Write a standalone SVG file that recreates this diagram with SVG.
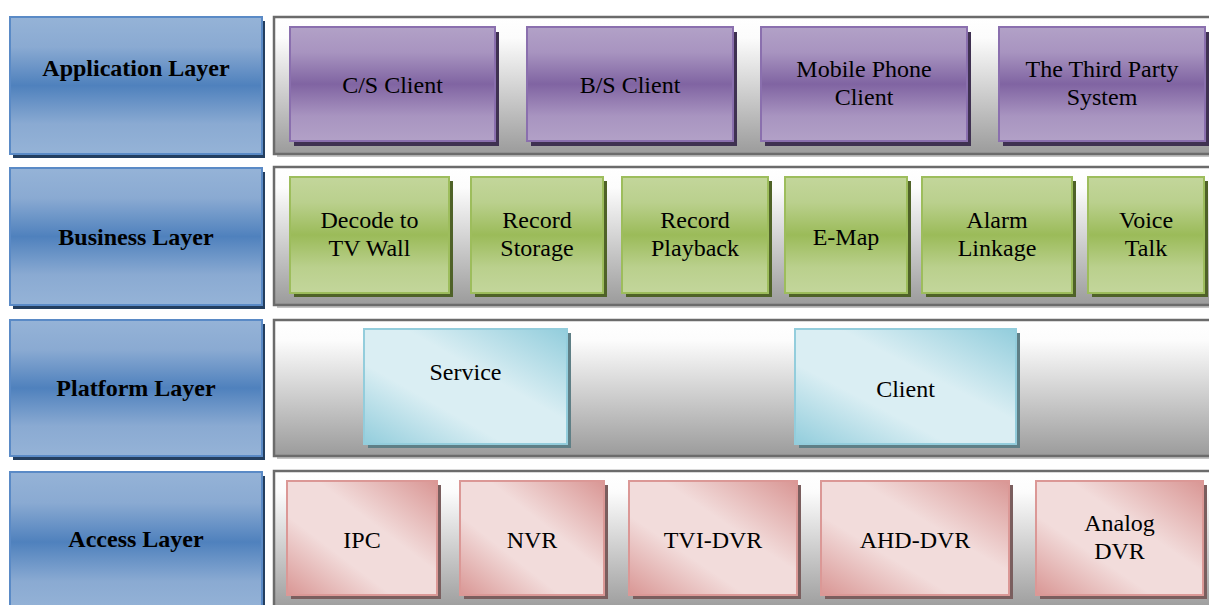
<svg xmlns="http://www.w3.org/2000/svg" width="1209" height="605" viewBox="0 0 1209 605">
<defs>
<linearGradient id="gPanel" x1="0" y1="0" x2="0" y2="1">
<stop offset="0" stop-color="#ffffff"/><stop offset="0.15" stop-color="#fcfcfc"/><stop offset="1" stop-color="#9b9b9b"/>
</linearGradient>
<linearGradient id="gBlue" x1="0" y1="0" x2="0" y2="1">
<stop offset="0" stop-color="#95b3d7"/><stop offset="0.22" stop-color="#8aaad2"/><stop offset="0.5" stop-color="#4f81bd"/><stop offset="0.78" stop-color="#8aaad2"/><stop offset="1" stop-color="#95b3d7"/>
</linearGradient>
<linearGradient id="gPurple" x1="0" y1="0" x2="0" y2="1">
<stop offset="0" stop-color="#b2a1c7"/><stop offset="0.22" stop-color="#a894c0"/><stop offset="0.5" stop-color="#8064a2"/><stop offset="0.78" stop-color="#a894c0"/><stop offset="1" stop-color="#b2a1c7"/>
</linearGradient>
<linearGradient id="gGreen" x1="0" y1="0" x2="0" y2="1">
<stop offset="0" stop-color="#c3d69b"/><stop offset="0.22" stop-color="#bad08d"/><stop offset="0.5" stop-color="#9bbb59"/><stop offset="0.78" stop-color="#bad08d"/><stop offset="1" stop-color="#c3d69b"/>
</linearGradient>
<linearGradient id="gCyan" x1="0" y1="1" x2="1" y2="0">
<stop offset="0" stop-color="#92cddc"/><stop offset="0.35" stop-color="#daeef3"/><stop offset="0.6" stop-color="#daeef3"/><stop offset="1" stop-color="#92cddc"/>
</linearGradient>
<linearGradient id="gPink" x1="0" y1="1" x2="1" y2="0">
<stop offset="0" stop-color="#d99694"/><stop offset="0.35" stop-color="#f2dcdb"/><stop offset="0.6" stop-color="#f2dcdb"/><stop offset="1" stop-color="#d99694"/>
</linearGradient>
</defs>
<style>
.panel{fill:url(#gPanel);stroke:#6b6b6b;stroke-width:2.5}
.pshadow{fill:#c4c4c4}
.layer{fill:url(#gBlue);stroke:#5a8ac6;stroke-width:2}
.lshadow{fill:#243f60}
.app{fill:url(#gPurple);stroke:#8a6fae;stroke-width:2}
.ashadow{fill:#3f3151}
.bus{fill:url(#gGreen);stroke:#9dbd5c;stroke-width:2}
.bshadow{fill:#4f6228}
.plat{fill:url(#gCyan);stroke:#93cddc;stroke-width:2}
.plshadow{fill:#5f7f86}
.acc{fill:url(#gPink);stroke:#db9896;stroke-width:2}
.acshadow{fill:#7a5e5e}
text{font-family:"Liberation Serif","Times New Roman",serif;font-size:24px;fill:#000;text-anchor:middle}
.lt{font-weight:bold}
</style>
<rect width="1209" height="605" fill="#ffffff"/>

<g id="panels">
<rect class="pshadow" x="277" y="20" width="960" height="137"/>
<rect class="panel" x="274" y="17" width="960" height="137"/>
<rect class="pshadow" x="277" y="170" width="960" height="138"/>
<rect class="panel" x="274" y="167" width="960" height="138"/>
<rect class="pshadow" x="277" y="323" width="960" height="136"/>
<rect class="panel" x="274" y="320" width="960" height="136"/>
<rect class="pshadow" x="277" y="474" width="960" height="140"/>
<rect class="panel" x="274" y="471" width="960" height="140"/>
</g>

<g id="layer-application">
<rect class="lshadow" x="13" y="21" width="252" height="137"/>
<rect class="layer" x="10" y="17" width="252" height="137"/>
<text class="lt" x="136" y="76">Application Layer</text>
</g>
<g id="layer-business">
<rect class="lshadow" x="13" y="172" width="252" height="137"/>
<rect class="layer" x="10" y="168" width="252" height="137"/>
<text class="lt" x="136" y="245">Business Layer</text>
</g>
<g id="layer-platform">
<rect class="lshadow" x="13" y="324" width="252" height="136"/>
<rect class="layer" x="10" y="320" width="252" height="136"/>
<text class="lt" x="136" y="396">Platform Layer</text>
</g>
<g id="layer-access">
<rect class="lshadow" x="13" y="476" width="252" height="140"/>
<rect class="layer" x="10" y="472" width="252" height="140"/>
<text class="lt" x="136" y="547">Access Layer</text>
</g>

<g id="cs-client">
<rect class="ashadow" x="294" y="32" width="205" height="114"/>
<rect class="app" x="290" y="27" width="205" height="114"/>
<text x="392.5" y="93">C/S Client</text>
</g>
<g id="bs-client">
<rect class="ashadow" x="531" y="32" width="206" height="114"/>
<rect class="app" x="527" y="27" width="206" height="114"/>
<text x="630" y="93">B/S Client</text>
</g>
<g id="mobile-client">
<rect class="ashadow" x="765" y="32" width="206" height="114"/>
<rect class="app" x="761" y="27" width="206" height="114"/>
<text x="864" y="77">Mobile Phone</text>
<text x="864" y="105">Client</text>
</g>
<g id="third-party">
<rect class="ashadow" x="1003" y="32" width="206" height="114"/>
<rect class="app" x="999" y="27" width="206" height="114"/>
<text x="1102" y="77">The Third Party</text>
<text x="1102" y="105">System</text>
</g>

<g id="decode-tv-wall">
<rect class="bshadow" x="294" y="181" width="159" height="116"/>
<rect class="bus" x="290" y="177" width="159" height="116"/>
<text x="369.5" y="228">Decode to</text>
<text x="369.5" y="256">TV Wall</text>
</g>
<g id="record-storage">
<rect class="bshadow" x="475" y="181" width="132" height="116"/>
<rect class="bus" x="471" y="177" width="132" height="116"/>
<text x="537" y="228">Record</text>
<text x="537" y="256">Storage</text>
</g>
<g id="record-playback">
<rect class="bshadow" x="626" y="181" width="146" height="116"/>
<rect class="bus" x="622" y="177" width="146" height="116"/>
<text x="695" y="228">Record</text>
<text x="695" y="256">Playback</text>
</g>
<g id="e-map">
<rect class="bshadow" x="789" y="181" width="122" height="116"/>
<rect class="bus" x="785" y="177" width="122" height="116"/>
<text x="846" y="245">E-Map</text>
</g>
<g id="alarm-linkage">
<rect class="bshadow" x="926" y="181" width="150" height="116"/>
<rect class="bus" x="922" y="177" width="150" height="116"/>
<text x="997" y="228">Alarm</text>
<text x="997" y="256">Linkage</text>
</g>
<g id="voice-talk">
<rect class="bshadow" x="1092" y="181" width="116" height="116"/>
<rect class="bus" x="1088" y="177" width="116" height="116"/>
<text x="1146" y="228">Voice</text>
<text x="1146" y="256">Talk</text>
</g>

<g id="service">
<rect class="plshadow" x="368" y="333" width="203" height="115"/>
<rect class="plat" x="364" y="329" width="203" height="115"/>
<text x="465.5" y="380">Service</text>
</g>
<g id="client">
<rect class="plshadow" x="799" y="333" width="221" height="115"/>
<rect class="plat" x="795" y="329" width="221" height="115"/>
<text x="905.5" y="397">Client</text>
</g>

<g id="ipc">
<rect class="acshadow" x="291" y="485" width="150" height="114"/>
<rect class="acc" x="287" y="481" width="150" height="114"/>
<text x="362" y="548">IPC</text>
</g>
<g id="nvr">
<rect class="acshadow" x="464" y="485" width="144" height="114"/>
<rect class="acc" x="460" y="481" width="144" height="114"/>
<text x="532" y="548">NVR</text>
</g>
<g id="tvi-dvr">
<rect class="acshadow" x="633" y="485" width="168" height="114"/>
<rect class="acc" x="629" y="481" width="168" height="114"/>
<text x="713" y="548">TVI-DVR</text>
</g>
<g id="ahd-dvr">
<rect class="acshadow" x="825" y="485" width="188" height="114"/>
<rect class="acc" x="821" y="481" width="188" height="114"/>
<text x="915" y="548">AHD-DVR</text>
</g>
<g id="analog-dvr">
<rect class="acshadow" x="1040" y="485" width="167" height="114"/>
<rect class="acc" x="1036" y="481" width="167" height="114"/>
<text x="1119.5" y="531">Analog</text>
<text x="1119.5" y="559">DVR</text>
</g>

<g id="connectors"/>
</svg>
